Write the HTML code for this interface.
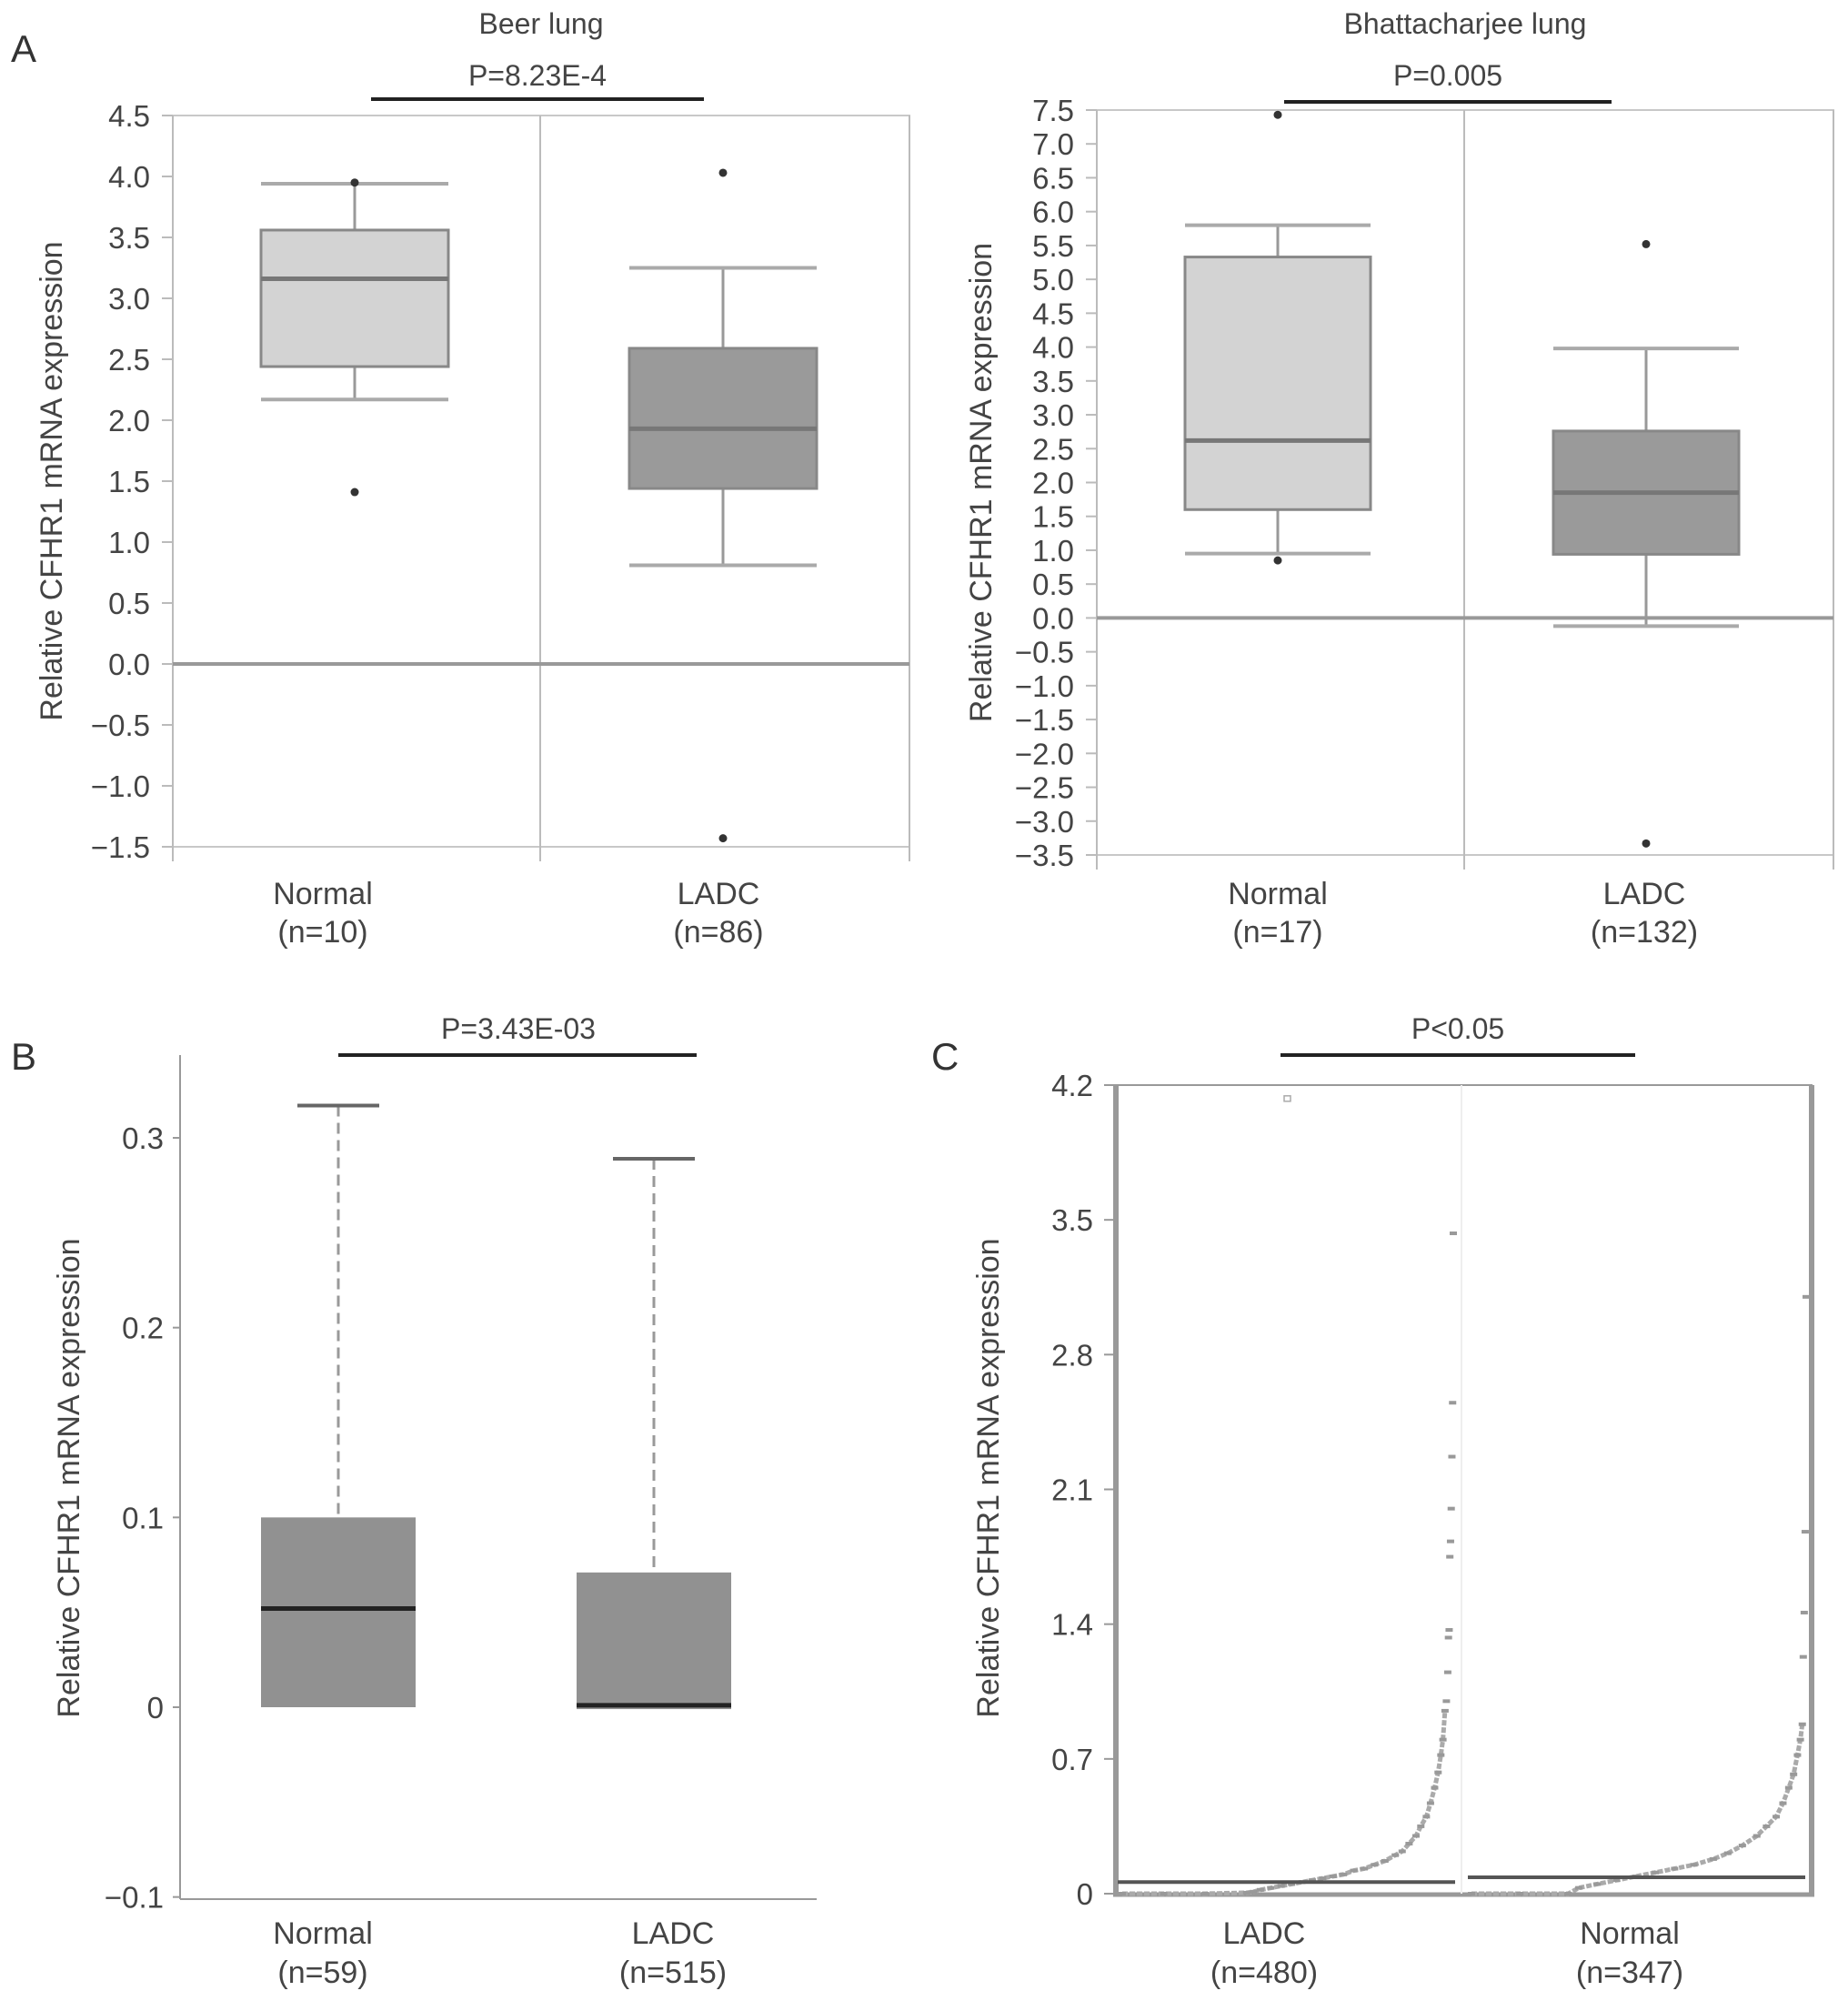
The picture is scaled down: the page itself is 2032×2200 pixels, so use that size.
<!DOCTYPE html>
<html><head><meta charset="utf-8"><style>
html,body{margin:0;padding:0;background:#fff;}
svg{display:block;font-family:"Liberation Sans",sans-serif;}
</style></head><body>
<svg id="fig" width="2032" height="2200" viewBox="0 0 2032 2200">
<text x="12" y="68" font-size="42" fill="#333">A</text>
<text x="12" y="1176" font-size="42" fill="#333">B</text>
<text x="1024" y="1176" font-size="42" fill="#333">C</text>
</svg>
<script>
// ---------- data ----------
const a1Cats = ["Normal","LADC"];
const a1N = ["(n=10)","(n=86)"];
const a1Low = [2.17, 0.81], a1Q1 = [2.44, 1.44], a1Med = [3.16, 1.93], a1Q3 = [3.56, 2.59], a1High = [3.94, 3.25];
const a1Out = [[1.41, 3.95], [4.03, -1.43]];
const a1Ticks = [4.5,4.0,3.5,3.0,2.5,2.0,1.5,1.0,0.5,0.0,-0.5,-1.0,-1.5];

const a2Cats = ["Normal","LADC"];
const a2N = ["(n=17)","(n=132)"];
const a2Low = [0.95, -0.12], a2Q1 = [1.6, 0.94], a2Med = [2.62, 1.85], a2Q3 = [5.33, 2.76], a2High = [5.8, 3.98];
const a2Out = [[7.43, 0.85], [5.52, -3.33]];
const a2Ticks = [7.5,7.0,6.5,6.0,5.5,5.0,4.5,4.0,3.5,3.0,2.5,2.0,1.5,1.0,0.5,0.0,-0.5,-1.0,-1.5,-2.0,-2.5,-3.0,-3.5];

const bCats = ["Normal","LADC"];
const bN = ["(n=59)","(n=515)"];
const bLow = [0.0, -0.001], bQ1 = [0.0, -0.001], bMed = [0.052, 0.001], bQ3 = [0.1, 0.071], bHigh = [0.317, 0.289];
const bTicks = [0.3,0.2,0.1,0,-0.1];

const cCats = ["LADC","Normal"];
const cN = ["(n=480)","(n=347)"];
const cMedian = [0.06, 0.085];
const cTicks = [4.2,3.5,2.8,2.1,1.4,0.7,0];
const lRank = [0,60,120,180,190,200,215,230,245,260,275,290,305,320,335,350,365,380,395,405,415,425,432,440,446,452,457,461,464,467,469,471,472,473,474,475,476,477,478,479];
const lVal = [0,0,0,0.005,0.01,0.02,0.03,0.04,0.05,0.06,0.07,0.08,0.09,0.1,0.12,0.13,0.15,0.17,0.2,0.22,0.26,0.3,0.35,0.4,0.47,0.55,0.63,0.72,0.8,0.95,1.0,1.15,1.33,1.37,1.75,1.83,2.0,2.27,2.55,3.43];
const lExtra = [4.13];
const nRank = [0,50,100,111,130,150,170,190,210,230,250,265,280,295,305,315,322,328,333,337,340,342,343,344,345,346];
const nVal = [0,0,0,0.03,0.05,0.07,0.09,0.11,0.13,0.15,0.18,0.21,0.25,0.3,0.35,0.4,0.47,0.55,0.62,0.72,0.8,0.88,1.23,1.46,1.88,3.10];

// ---------- helpers ----------
const svg = document.getElementById('fig');
const NS = 'http://www.w3.org/2000/svg';
function el(tag, attrs, parent){
  const e = document.createElementNS(NS, tag);
  for (const k in attrs) e.setAttribute(k, attrs[k]);
  (parent||svg).appendChild(e);
  return e;
}
function txt(x,y,s,size,anchor,parent,fill){
  const t = el('text',{x:x,y:y,'font-size':size,'text-anchor':anchor||'middle',fill:fill||'#444'},parent);
  t.textContent = s;
  return t;
}
function scale(v0,p0,v1,p1){ return v => p0 + (v - v0)*(p1 - p0)/(v1 - v0); }

// ---------- panel A style boxplots ----------
function panelA(cfg){
  const g = el('g',{});
  
  
  const y = scale(cfg.vTop, cfg.top, cfg.vBot, cfg.bot);
  const t1 = txt((cfg.left+cfg.right)/2, 37, cfg.title, 32, 'middle', g);
  
  
  const pt = txt((cfg.pl+cfg.pr)/2, 94, cfg.p, 32, 'middle', g);
  
  
  const pl = el('line',{x1:cfg.pl,x2:cfg.pr,y1:cfg.py,y2:cfg.py,stroke:'#222','stroke-width':4},g);
  
  
  const fr = el('rect',{x:cfg.left,y:cfg.top,width:cfg.right-cfg.left,height:cfg.bot-cfg.top,fill:'none',stroke:'#c8c8c8','stroke-width':2},g);
  
  
  el('line',{x1:cfg.div,x2:cfg.div,y1:cfg.top,y2:cfg.bot+16,stroke:'#bbb','stroke-width':2},g);
  el('line',{x1:cfg.left,x2:cfg.left,y1:cfg.top,y2:cfg.bot+16,stroke:'#bbb','stroke-width':2},g);
  el('line',{x1:cfg.right,x2:cfg.right,y1:cfg.top,y2:cfg.bot+16,stroke:'#bbb','stroke-width':2},g);
  const z = el('line',{x1:cfg.left,x2:cfg.right,y1:y(0),y2:y(0),stroke:'#999','stroke-width':4},g);
  
  
  cfg.ticks.forEach(v=>{
    el('line',{x1:cfg.left-12,x2:cfg.left,y1:y(v),y2:y(v),stroke:'#bbb','stroke-width':2},g);
    const s = (v<0?'\u2212':'') + Math.abs(v).toFixed(1);
    const tl = txt(cfg.left-25, y(v)+12, s, 33, 'end', g);
    
    
  });
  const yl = txt(0,0,'Relative CFHR1 mRNA expression',34,'middle',g);
  yl.setAttribute('transform','translate('+cfg.ylx+','+((cfg.top+cfg.bot)/2)+') rotate(-90)');
  
  
  const fills = ['#d3d3d3','#9a9a9a'];
  cfg.cats.forEach((c,i)=>{
    const cx = cfg.cx[i], hw = cfg.hw;
    el('line',{x1:cx,x2:cx,y1:y(cfg.high[i]),y2:y(cfg.q3[i]),stroke:'#999','stroke-width':3},g);
    el('line',{x1:cx,x2:cx,y1:y(cfg.q1[i]),y2:y(cfg.low[i]),stroke:'#999','stroke-width':3},g);
    const wh = el('line',{x1:cx-hw,x2:cx+hw,y1:y(cfg.high[i]),y2:y(cfg.high[i]),stroke:'#aaa','stroke-width':4},g);
    
    
    const wl = el('line',{x1:cx-hw,x2:cx+hw,y1:y(cfg.low[i]),y2:y(cfg.low[i]),stroke:'#aaa','stroke-width':4},g);
    
    
    const b = el('rect',{x:cx-hw,y:y(cfg.q3[i]),width:2*hw,height:y(cfg.q1[i])-y(cfg.q3[i]),fill:fills[i],stroke:'#888','stroke-width':3},g);
    
    
    const m = el('line',{x1:cx-hw,x2:cx+hw,y1:y(cfg.med[i]),y2:y(cfg.med[i]),stroke:'#777','stroke-width':5},g);
    
    
    cfg.out[i].forEach(v=>{
      const o = el('circle',{cx:cx,cy:y(v),r:4.5,fill:'#333'},g);
      
      
    });
    const cl = txt(cfg.lx[i], 994, c, 34, 'middle', g);
    
    
    const nl = txt(cfg.lx[i], 1036, cfg.n[i], 34, 'middle', g);
    
    
  });
}
panelA({name:'beer-lung-chart',title:'Beer lung',p:'P=8.23E-4',pl:408,pr:774,py:109,
  left:190,right:1000,top:127,bot:931,vTop:4.5,vBot:-1.5,div:594,ylx:68,
  ticks:a1Ticks,cats:a1Cats,n:a1N,cx:[390,795],hw:103,lx:[355,790],
  low:a1Low,q1:a1Q1,med:a1Med,q3:a1Q3,high:a1High,out:a1Out});
panelA({name:'bhattacharjee-lung-chart',title:'Bhattacharjee lung',p:'P=0.005',pl:1412,pr:1772,py:112,
  left:1206,right:2016,top:121,bot:940,vTop:7.5,vBot:-3.5,div:1610,ylx:1090,
  ticks:a2Ticks,cats:a2Cats,n:a2N,cx:[1405,1810],hw:102,lx:[1405,1808],
  low:a2Low,q1:a2Q1,med:a2Med,q3:a2Q3,high:a2High,out:a2Out});

// ---------- panel B ----------
(function(){
  const g = el('g',{});
  
  
  const y = scale(0, 1877, 0.3, 1251);
  const pt = txt(570, 1142, 'P=3.43E-03', 32, 'middle', g);
  
  
  el('line',{x1:372,x2:766,y1:1160,y2:1160,stroke:'#222','stroke-width':4},g);
  el('line',{x1:198,x2:198,y1:1160,y2:2088,stroke:'#999','stroke-width':2},g);
  el('line',{x1:198,x2:898,y1:2088,y2:2088,stroke:'#999','stroke-width':2},g);
  bTicks.forEach(v=>{
    el('line',{x1:190,x2:198,y1:y(v),y2:y(v),stroke:'#999','stroke-width':2},g);
    const s = v===0?'0':(v<0?'\u2212':'')+Math.abs(v).toFixed(1);
    const tl = txt(180, y(v)+12, s, 33, 'end', g);
    
    
  });
  const yl = txt(0,0,'Relative CFHR1 mRNA expression',34,'middle',g);
  yl.setAttribute('transform','translate(87,1625) rotate(-90)');
  
  
  const cx = [372, 719], hw = 85, cw = 45;
  bCats.forEach((c,i)=>{
    el('line',{x1:cx[i],x2:cx[i],y1:y(bHigh[i]),y2:y(bQ3[i]),stroke:'#999','stroke-width':3,'stroke-dasharray':'12,7'},g);
    const wh = el('line',{x1:cx[i]-cw,x2:cx[i]+cw,y1:y(bHigh[i]),y2:y(bHigh[i]),stroke:'#666','stroke-width':4},g);
    
    
    const b = el('rect',{x:cx[i]-hw,y:y(bQ3[i]),width:2*hw,height:y(bQ1[i])-y(bQ3[i]),fill:'#919191'},g);
    
    
    const m = el('line',{x1:cx[i]-hw,x2:cx[i]+hw,y1:y(bMed[i]),y2:y(bMed[i]),stroke:'#222','stroke-width':5},g);
    
    
    const lx = [355, 740][i];
    const cl = txt(lx, 2137, c, 34, 'middle', g);
    
    
    const nl = txt(lx, 2180, bN[i], 34, 'middle', g);
    
    
  });
})();

// ---------- panel C ----------
(function(){
  const g = el('g',{});
  
  
  const y = scale(0, 2082, 4.2, 1193);
  const pt = txt(1603, 1142, 'P<0.05', 32, 'middle', g);
  
  
  el('line',{x1:1408,x2:1798,y1:1160,y2:1160,stroke:'#222','stroke-width':4},g);
  el('rect',{x:1227,y:1193,width:765,height:889,fill:'none',stroke:'#999','stroke-width':2},g);
  el('line',{x1:1227,x2:1227,y1:1193,y2:2085,stroke:'#999','stroke-width':6},g);
  el('line',{x1:1992,x2:1992,y1:1193,y2:2085,stroke:'#999','stroke-width':6},g);
  el('line',{x1:1224,x2:1995,y1:2083,y2:2083,stroke:'#999','stroke-width':5},g);
  el('line',{x1:1607,x2:1607,y1:1193,y2:2082,stroke:'#eee','stroke-width':2},g);
  cTicks.forEach(v=>{
    el('line',{x1:1214,x2:1227,y1:y(v),y2:y(v),stroke:'#999','stroke-width':2},g);
    const tl = txt(1202, y(v)+12, v===0?'0':v.toFixed(1), 33, 'end', g);
    
    
  });
  const yl = txt(0,0,'Relative CFHR1 mRNA expression',34,'middle',g);
  yl.setAttribute('transform','translate(1098,1625) rotate(-90)');
  
  
  function series(ranks, vals, n, x0, x1, nm){
    const x = scale(0, x0, n-1, x1);
    const pts = [];
    ranks.forEach((r,i)=>{ if (vals[i] < 1.0) pts.push(x(r)+','+y(vals[i])); });
    const pl = el('polyline',{points:pts.join(' '),fill:'none',stroke:'#aaa','stroke-width':5,'stroke-dasharray':'6,2'},g);
    
    
    ranks.forEach((r,i)=>{
      const d = el('rect',{x:x(r)-4,y:y(vals[i])-2,width:8,height:4,fill:'#999'},g);
      
      
    });
  }
  series(lRank, lVal, 480, 1234, 1598, 'ladc');
  series(nRank, nVal, 347, 1618, 1986, 'normal');
  lExtra.forEach(v=>{
    const o = el('rect',{x:1412,y:y(v)-3,width:7,height:6,fill:'none',stroke:'#aaa','stroke-width':1.5},g);
    
    
  });
  const mx = [[1229,1600],[1614,1985]];
  cCats.forEach((c,i)=>{
    const m = el('line',{x1:mx[i][0],x2:mx[i][1],y1:y(cMedian[i]),y2:y(cMedian[i]),stroke:'#555','stroke-width':4},g);
    
    
    const lx = [1390, 1792][i];
    const cl = txt(lx, 2137, c, 34, 'middle', g);
    
    
    const nl = txt(lx, 2180, cN[i], 34, 'middle', g);
    
    
  });
})();
</script>
</body></html>
